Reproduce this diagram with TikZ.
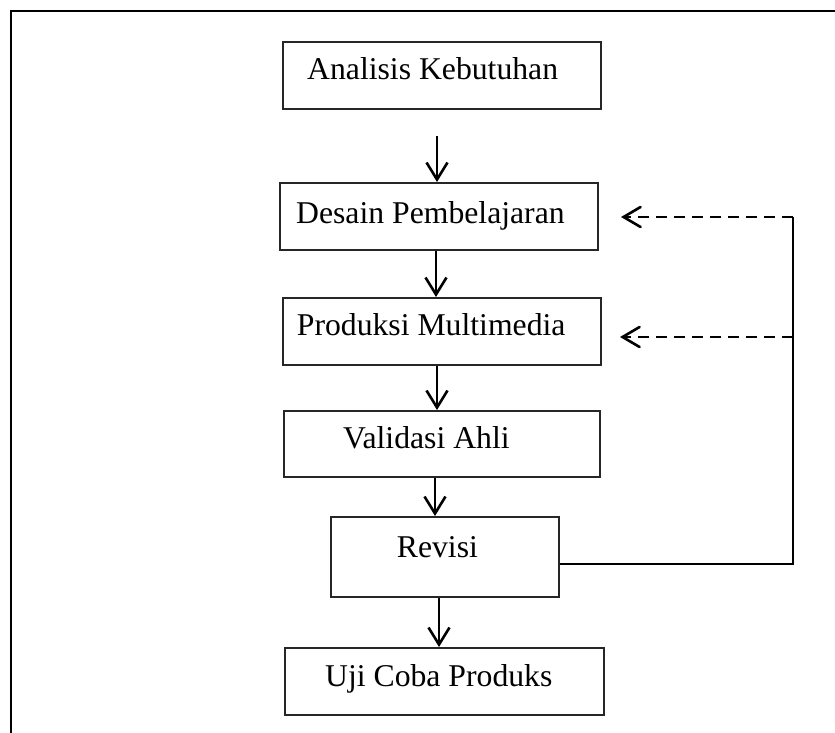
\documentclass[tikz,border=0pt]{standalone}
\usepackage{fontspec}
\setmainfont{Liberation Serif}
\usetikzlibrary{arrows.meta,calc}
\begin{document}
\begin{tikzpicture}[x=1pt,y=-1pt,
  stepbox/.style={draw=black!85,line width=1.6pt,inner sep=0pt,anchor=north west},
  lbl/.style={anchor=base west,inner sep=0pt,font=\fontsize{31.7}{38}\selectfont},
  flow/.style={line width=2.6pt,-{Straight Barb[length=17pt,width=21pt,line width=2.6pt]}},
  back/.style={line width=2.6pt,dash pattern=on 11pt off 7pt,-{Straight Barb[length=17pt,width=20pt,line width=2.6pt,line cap=round]}},
  fb/.style={line width=2.2pt}]
\useasboundingbox (0,0) rectangle (835,733);
% page frame (left and top edges)
\draw[line width=1.9pt] (11,733) -- (11,11) -- (835,11);
% boxes
\node[stepbox,minimum width=318pt,minimum height=67pt] (A) at (282,41) {};
\node[stepbox,minimum width=318pt,minimum height=67pt] (D) at (279,182) {};
\node[stepbox,minimum width=318pt,minimum height=67pt] (P) at (282,297) {};
\node[stepbox,minimum width=316pt,minimum height=66pt] (V) at (283,410) {};
\node[stepbox,minimum width=228pt,minimum height=80pt] (R) at (330,516) {};
\node[stepbox,minimum width=319pt,minimum height=67pt] (U) at (284,647) {};
% labels
\node[lbl] (tA) at (307,80) {Analisis Kebutuhan};
\node[lbl] (tD) at (296,223.3) {Desain Pembelajaran};
\node[lbl] (tP) at (296.7,335) {Produksi Multimedia};
\node[lbl] (tV) at (343,448.3) {Validasi Ahli};
\node[lbl] (tR) at (396.7,557.3) {Revisi};
\node[lbl] (tU) at (325,686.7) {Uji Coba Produks};
% flow arrows
\coordinate (a1) at (437,136);
\draw[flow] (a1) -- (a1 |- D.north);
\draw[flow] (D.south -| 436,0) -- (P.north -| 436,0);
\draw[flow] (P.south -| 437,0) -- (V.north -| 437,0);
\draw[flow] (V.south -| 435,0) -- (R.north -| 435,0);
\draw[flow] (R.south -| 439,0) -- (U.north -| 439,0);
% feedback
\coordinate (f0) at (793,564);
\coordinate (f1) at (793,217);
\coordinate (f2) at (793,337);
\coordinate (e1) at (621,217);
\coordinate (e2) at (620,337);
\draw[fb] (R.east |- f0) -- (f0) -- (f1);
\draw[back] (f1) -- (e1);
\draw[back] (f2) -- (e2);
\end{tikzpicture}
\end{document}
